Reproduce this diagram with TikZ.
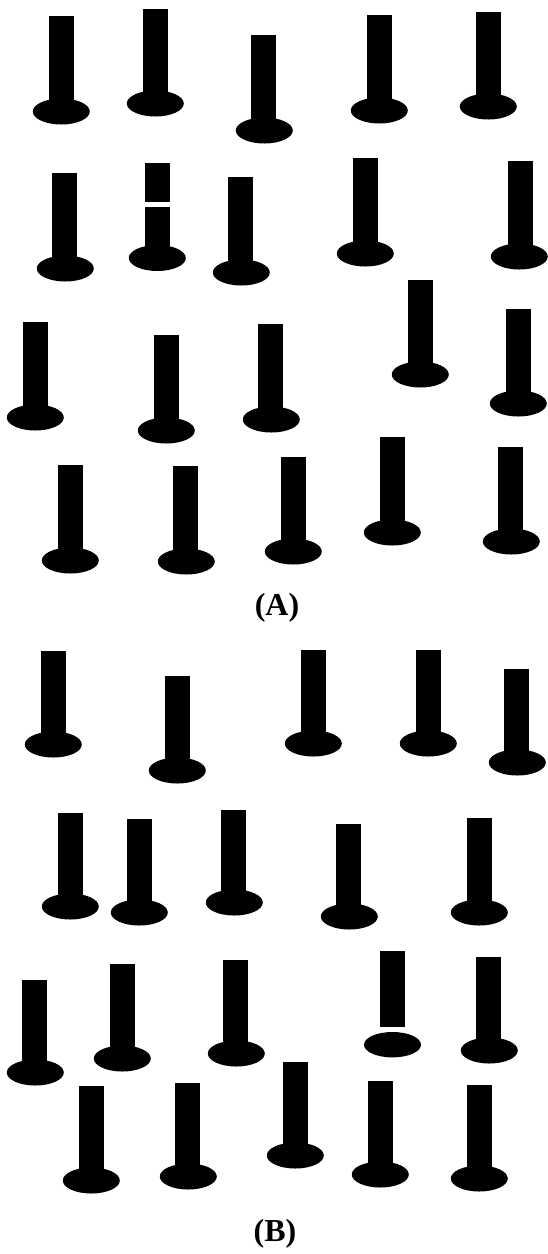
\documentclass[tikz,border=0pt]{standalone}
\usepackage{fontspec}
\setmainfont{Liberation Serif}
\newcommand{\pin}[4]{% stem left x, top y, ellipse cx, cy
  \fill (#1,-#2) rectangle ++(25,-#4+#2);
  \fill (#3+0.3,-#4-0.5) ellipse [x radius=28.5, y radius=13];}
\newcommand{\gappin}[6]{% additional: gap top, gap bottom, ellipse separate
  \fill (#1,-#2) rectangle (#1+25,-#5);
  \fill (#1,-#6) rectangle (#1+25,-#4);
  \fill (#3+0.3,-#4-0.5) ellipse [x radius=28.5, y radius=13];}
\begin{document}
\begin{tikzpicture}[x=1pt,y=1pt]
\useasboundingbox (0,0) rectangle (547,-1254);
\pin{49}{16}{61}{111}\pin{143}{9}{155}{103}\pin{251}{35}{264}{130}\pin{367}{15}{379}{110}\pin{476}{12}{488}{106}
\pin{52}{173}{65}{268}\gappin{145}{162.5}{157}{257.5}{202.3}{206.7}\pin{228}{177}{241}{272}\pin{353}{158}{365}{253}\pin{508}{161}{519}{256}
\pin{23}{322}{35}{417}\pin{154}{335}{166}{430}\pin{258}{324}{271}{419}\pin{408}{280}{420}{374}\pin{506}{309}{518}{403}
\pin{58}{465}{70}{560}\pin{173}{466}{186}{561}\pin{281}{457}{293}{551}\pin{380}{437}{392}{532}\pin{498}{447}{511}{541}
\node[font=\bfseries\fontsize{32}{36}\selectfont] (labelA) at (277,-608) {(A)};
\pin{41}{651}{53}{744}\pin{165}{676}{177}{770}\pin{301}{650}{313}{743}\pin{416}{650}{428}{743}\pin{504}{669}{517}{762}
\pin{58}{813}{70}{906}\pin{127}{819}{139}{912}\pin{221}{810}{234}{902}\pin{336}{824}{349}{916}\pin{467}{818}{479}{912}
\pin{22}{980}{35}{1072}\pin{110}{964}{122}{1058}\pin{223}{960}{236}{1053}\pin{476}{957}{489}{1050}
\fill (380,-951) rectangle (405,-1027.3);
\fill (392.5,-1044.7) ellipse [x radius=28.5, y radius=12.7];
\pin{79}{1086}{91}{1180}\pin{175}{1083}{188}{1176}\pin{283}{1062}{295}{1155}\pin{368}{1081}{380}{1174}\pin{467}{1085}{479}{1178}
\node[font=\bfseries\fontsize{32}{36}\selectfont] (labelB) at (275,-1234) {(B)};
\end{tikzpicture}
\end{document}
